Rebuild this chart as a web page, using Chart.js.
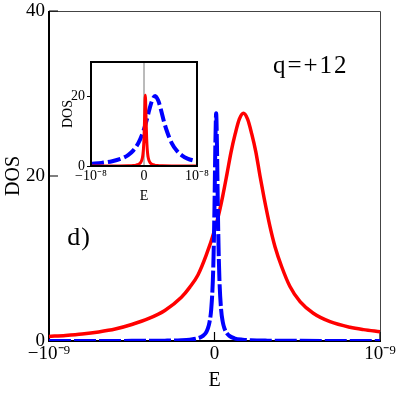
<!DOCTYPE html>
<html>
<head>
<meta charset="utf-8">
<script src="https://cdn.jsdelivr.net/npm/chart.js@4.4.1/dist/chart.umd.min.js"></script>
<style>
  html, body { margin: 0; padding: 0; background: #fff; }
  #wrap { position: relative; width: 399px; height: 393px; }
  #mainChart { position: absolute; left: 0; top: 0; }
  #insetChart { position: absolute; left: 55px; top: 55px; }
</style>
</head>
<body>
<div id="wrap">
  <canvas id="mainChart" width="399" height="393"></canvas>
  <canvas id="insetChart" width="165" height="150"></canvas>
</div>
<script>
// main panel, E in units of 1e-9
const mainRedE = [-1, -0.9, -0.8, -0.7, -0.6, -0.5, -0.4, -0.3, -0.2, -0.15, -0.1, -0.05, 0, 0.025, 0.05, 0.075, 0.1, 0.125, 0.15, 0.175, 0.2, 0.225, 0.25, 0.275, 0.3, 0.335, 0.366, 0.406, 0.456, 0.517, 0.597, 0.698, 0.819, 0.9, 1];
const mainRedDOS = [0.55, 0.68, 0.85, 1.1, 1.45, 2.0, 2.7, 3.7, 5.3, 6.5, 8.0, 10.4, 13.4, 15.3, 17.6, 20.2, 22.9, 25.1, 26.9, 27.6, 26.9, 25.1, 22.9, 20.0, 17.3, 13.9, 11.4, 9.0, 6.6, 4.76, 3.36, 2.34, 1.66, 1.38, 1.13];

const mainBlueE = [-1, -0.5, -0.3, -0.2, -0.15, -0.1, -0.07, -0.05, -0.04, -0.03, -0.02, -0.01, -0.005, 0, 0.005, 0.01, 0.015, 0.02, 0.025, 0.03, 0.04, 0.05, 0.06, 0.07, 0.09, 0.12, 0.17, 0.22, 0.32, 0.52, 1];
const mainBlueDOS = [0.004, 0.016, 0.042, 0.09, 0.16, 0.33, 0.62, 1.07, 1.52, 2.3, 3.8, 7.3, 10.9, 16.4, 23.6, 27.6, 23.6, 16.4, 10.9, 7.3, 3.8, 2.3, 1.52, 1.07, 0.62, 0.33, 0.16, 0.09, 0.042, 0.016, 0.004];

// inset, E in units of 1e-8
const insetBlueE = [-1, -0.8, -0.6, -0.4, -0.3, -0.2, -0.1, 0, 0.05, 0.1, 0.15, 0.21, 0.27, 0.32, 0.37, 0.42, 0.52, 0.62, 0.72, 0.82, 1];
const insetBlueDOS = [0.62, 0.9, 1.38, 2.3, 3.15, 4.5, 6.8, 10.6, 13.2, 16.2, 18.8, 20.2, 18.8, 16.2, 13.2, 10.6, 6.7, 4.4, 3.0, 2.15, 1.3];

const insetRedE = [-1, -0.5, -0.3, -0.2, -0.15, -0.1, -0.07, -0.05, -0.03, -0.02, -0.01, 0, 0.01, 0.02, 0.025, 0.03, 0.04, 0.05, 0.06, 0.07, 0.08, 0.1, 0.12, 0.15, 0.2, 0.25, 0.35, 0.55, 1];
const insetRedDOS = [0.008, 0.03, 0.077, 0.16, 0.26, 0.51, 0.87, 1.36, 2.4, 3.4, 5.1, 8.0, 13.1, 19.2, 20.4, 19.2, 13.1, 8.0, 5.1, 3.4, 2.4, 1.36, 0.87, 0.51, 0.26, 0.16, 0.077, 0.03, 0.01];

const mainXTicks = [-1, 0, 1];
const mainXLabels = ["\u221210\u207B\u2079", "0", "10\u207B\u2079"];
const mainYTicks = [0, 20, 40];
const mainYLabels = ["0", "20", "40"];
const insetXTicks = [-1, 0, 1];
const insetXLabels = ["\u221210\u207B\u2078", "0", "10\u207B\u2078"];
const insetYTicks = [0, 20];
const insetYLabels = ["0", "20"];

const RED = "#ff0000";
const BLUE = "#0000ff";
const SERIF = "'Liberation Serif', 'Times New Roman', serif";

Chart.defaults.font.family = SERIF;
Chart.defaults.color = "#000";

function pts(xs, ys) {
  return xs.map((v, i) => ({ x: v, y: ys[i] }));
}

function fixedTicks(values) {
  return (scale) => { scale.ticks = values.map(v => ({ value: v })); };
}

function fitHeight(h) {
  return (s) => { s.height = h; s.paddingLeft = 0; s.paddingRight = 0; };
}

function fitWidth(w) {
  return (s) => { s.width = w; s.paddingTop = 0; s.paddingBottom = 0; };
}

// frame, inward ticks and the panel labels of the main plot
const mainFrame = {
  id: "mainFrame",
  beforeDatasetsDraw(chart) {
    const { ctx, chartArea: a, scales: { x, y } } = chart;
    ctx.save();
    ctx.strokeStyle = "#444";
    ctx.lineWidth = 1;
    ctx.beginPath();
    ctx.moveTo(a.left, a.top + 0.5);
    ctx.lineTo(a.right + 0.5, a.top + 0.5);
    ctx.lineTo(a.right + 0.5, a.bottom);
    ctx.stroke();

    ctx.strokeStyle = "#000";
    ctx.lineWidth = 2;
    ctx.beginPath();
    ctx.moveTo(a.left, a.top);
    ctx.lineTo(a.left, a.bottom);
    ctx.lineTo(a.right + 1, a.bottom);
    ctx.stroke();

    ctx.lineWidth = 1.2;
    ctx.beginPath();
    mainXTicks.forEach(v => {
      const px = x.getPixelForValue(v);
      ctx.moveTo(px, a.bottom);
      ctx.lineTo(px, a.bottom - 9);
    });
    mainYTicks.forEach(v => {
      const py = y.getPixelForValue(v);
      ctx.moveTo(a.left, py);
      ctx.lineTo(a.left + 9, py);
    });
    ctx.stroke();

    ctx.fillStyle = "#000";
    ctx.textBaseline = "alphabetic";
    ctx.textAlign = "left";
    ctx.font = "25px " + SERIF;
    ctx.letterSpacing = "2px";
    ctx.fillText("q=+12", x.getPixelForValue(0.353), y.getPixelForValue(32.5));
    ctx.font = "26px " + SERIF;
    ctx.letterSpacing = "1px";
    ctx.fillText("d)", x.getPixelForValue(-0.89), y.getPixelForValue(11.6));
    ctx.restore();
  }
};

const insetFrame = {
  id: "insetFrame",
  beforeDatasetsDraw(chart) {
    const { ctx, chartArea: a, scales: { x } } = chart;
    ctx.save();
    ctx.fillStyle = "#fff";
    ctx.fillRect(a.left, a.top, a.right - a.left, a.bottom - a.top);
    const px = x.getPixelForValue(0);
    ctx.strokeStyle = "#777";
    ctx.lineWidth = 1;
    ctx.beginPath();
    ctx.moveTo(px, a.top);
    ctx.lineTo(px, a.bottom);
    ctx.stroke();
    ctx.restore();
  },
  afterDatasetsDraw(chart) {
    const { ctx, chartArea: a } = chart;
    ctx.save();
    ctx.strokeStyle = "#000";
    ctx.lineWidth = 2;
    ctx.strokeRect(a.left, a.top, a.right - a.left, a.bottom - a.top);
    ctx.restore();
  }
};

const keepBottom = { left: 3, top: 3, right: 3, bottom: 0 };

new Chart(document.getElementById("mainChart").getContext("2d"), {
  type: "line",
  data: {
    datasets: [
      {
        data: pts(mainBlueE, mainBlueDOS),
        borderColor: BLUE,
        borderWidth: 4,
        borderDash: [22, 3],
        pointRadius: 0,
        cubicInterpolationMode: "monotone",
        clip: keepBottom,
      },
      {
        data: pts(mainRedE, mainRedDOS),
        borderColor: RED,
        borderWidth: 3.5,
        pointRadius: 0,
        cubicInterpolationMode: "monotone",
        clip: keepBottom,
      },
    ],
  },
  options: {
    responsive: false,
    animation: false,
    layout: { padding: { left: 0, top: 11, right: 19, bottom: 0 } },
    plugins: { legend: { display: false }, tooltip: { enabled: false } },
    scales: {
      x: {
        type: "linear",
        min: -1,
        max: 1,
        afterBuildTicks: fixedTicks(mainXTicks),
        afterFit: fitHeight(52),
        grid: { display: false, drawTicks: false },
        border: { display: false },
        ticks: {
          autoSkip: false,
          maxRotation: 0,
          padding: 2,
          font: { size: 19 },
          callback: (v) => mainXLabels[mainXTicks.indexOf(v)],
        },
        title: { display: true, text: "E", font: { size: 20 }, padding: { top: 0, bottom: 0 } },
      },
      y: {
        min: 0,
        max: 40,
        afterBuildTicks: fixedTicks(mainYTicks),
        afterFit: fitWidth(49),
        grid: { display: false, drawTicks: false },
        border: { display: false },
        ticks: {
          autoSkip: false,
          padding: 4,
          font: { size: 19 },
          callback: (v) => mainYLabels[mainYTicks.indexOf(v)],
        },
        title: { display: true, text: "DOS", font: { size: 20 }, padding: { top: 2, bottom: 0 } },
      },
    },
  },
  plugins: [mainFrame],
});

new Chart(document.getElementById("insetChart").getContext("2d"), {
  type: "line",
  data: {
    datasets: [
      {
        data: pts(insetRedE, insetRedDOS),
        borderColor: RED,
        borderWidth: 3,
        pointRadius: 0,
        cubicInterpolationMode: "monotone",
      },
      {
        data: pts(insetBlueE, insetBlueDOS),
        borderColor: BLUE,
        borderWidth: 4,
        borderDash: [13, 4],
        pointRadius: 0,
        cubicInterpolationMode: "monotone",
      },
    ],
  },
  options: {
    responsive: false,
    animation: false,
    layout: { padding: { left: 0, top: 7, right: 23, bottom: 0 } },
    plugins: { legend: { display: false }, tooltip: { enabled: false } },
    scales: {
      x: {
        type: "linear",
        min: -1,
        max: 1,
        afterBuildTicks: fixedTicks(insetXTicks),
        afterFit: fitHeight(39),
        grid: { display: false, drawTicks: false },
        border: { display: false },
        ticks: {
          autoSkip: false,
          maxRotation: 0,
          padding: 2,
          font: { size: 14 },
          callback: (v) => insetXLabels[insetXTicks.indexOf(v)],
        },
        title: { display: true, text: "E", font: { size: 14 }, padding: { top: 0, bottom: 0.6 } },
      },
      y: {
        min: 0,
        max: 30,
        afterBuildTicks: fixedTicks(insetYTicks),
        afterFit: fitWidth(36),
        grid: { drawOnChartArea: false, drawTicks: true, tickLength: 4, color: "#000", lineWidth: 1 },
        border: { display: false },
        ticks: {
          autoSkip: false,
          padding: 2,
          font: { size: 14 },
          callback: (v) => insetYLabels[insetYTicks.indexOf(v)],
        },
        title: { display: true, text: "DOS", font: { size: 14 }, padding: { top: 4.6, bottom: 0 } },
      },
    },
  },
  plugins: [insetFrame],
});
</script>
</body>
</html>
